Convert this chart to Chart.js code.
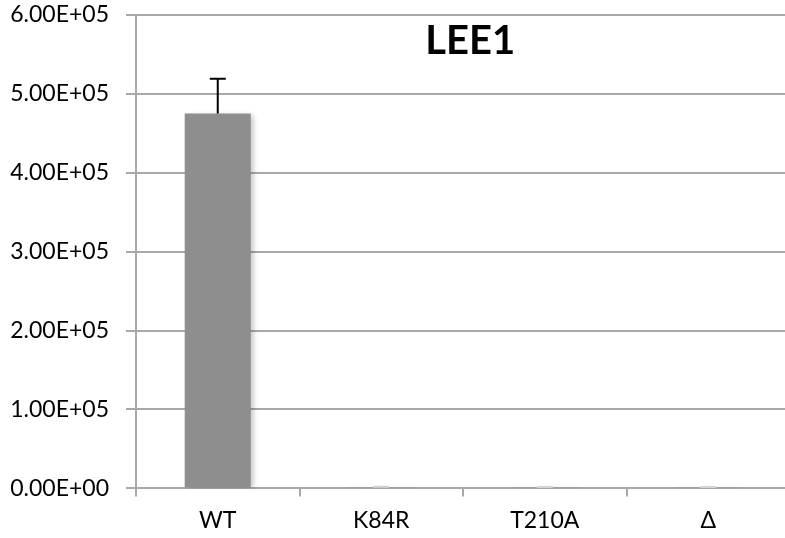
<!DOCTYPE html>
<html>
<head>
<meta charset="utf-8">
<title>LEE1</title>
<script src="https://cdn.jsdelivr.net/npm/chart.js@4"></script>
<style>
    html, body { margin: 0; padding: 0; background: #fff; overflow: hidden; }
    #wrap { position: relative; top: -16px; width: 792px; height: 554px; }
</style>
</head>
<body>
<div id="wrap"><canvas id="myBarChart"></canvas></div>
<script>
'use strict';

// chart data
const categories = ["WT", "K84R", "T210A", "\u0394"];
const values = [475000, 900, 700, 800];
const errors = [44000, 1100, 1200, 1100];
const errorColors = ['#000000', '#d4d4d4', '#d4d4d4', '#d4d4d4'];
const yMin = 0;
const yMax = 600000;
const yStep = 100000;
const chartTitle = "LEE1";

{
    const FONT = "Lato, 'DejaVu Sans', sans-serif";
    const GRID = '#a8a8a8';

    // 6.00E+05 style labels
    function sci(v) {
        const parts = Number(v).toExponential(2).split('e');
        const exp = parts[1];
        return parts[0] + 'E' + exp[0] + exp.slice(1).padStart(2, '0');
    }

    /**
     * soft shadow behind the bars
     */
    const barShadow = {
        id: 'barShadow',
        beforeDatasetDraw(chart) {
            const ctx = chart.ctx;
            ctx.save();
            ctx.shadowColor = 'rgba(0,0,0,0.22)';
            ctx.shadowBlur = 5;
            ctx.shadowOffsetX = 3;
            ctx.shadowOffsetY = 2;
        },
        afterDatasetDraw(chart) {
            chart.ctx.restore();
        }
    };

    /**
     * upper error bars
     */
    const errorBars = {
        id: 'errorBars',
        afterDatasetsDraw(chart) {
            const ctx = chart.ctx;
            const y = chart.scales.y;
            const meta = chart.getDatasetMeta(0);
            meta.data.forEach((bar, i) => {
                const top = y.getPixelForValue(values[i] + errors[i]);
                const base = y.getPixelForValue(values[i]);
                ctx.save();
                ctx.strokeStyle = errorColors[i];
                ctx.lineWidth = 2;
                ctx.beginPath();
                ctx.moveTo(bar.x, base);
                ctx.lineTo(bar.x, top);
                ctx.moveTo(bar.x - 8, top);
                ctx.lineTo(bar.x + 8, top);
                ctx.stroke();
                ctx.restore();
            });
        }
    };

    /**
     * title drawn inside the plot area
     */
    const innerTitle = {
        id: 'innerTitle',
        afterDraw(chart) {
            const ctx = chart.ctx;
            const a = chart.chartArea;
            ctx.save();
            ctx.font = "bold 40px " + FONT;
            ctx.fillStyle = '#000';
            ctx.textAlign = 'center';
            ctx.textBaseline = 'alphabetic';
            ctx.fillText(chartTitle, a.left + (a.right - a.left) * 0.511, a.top + 39);
            ctx.restore();
        }
    };

    let ctx = document.getElementById("myBarChart");
    let myChart = new Chart(ctx, {
        type: 'bar',
        data: {
            labels: categories,
            datasets: [
                {
                    data: values,
                    backgroundColor: '#8e8e8e',
                    borderWidth: 0,
                    categoryPercentage: 1,
                    barPercentage: 0.404
                }
            ]
        },
        plugins: [barShadow, errorBars, innerTitle],
        options: {
            responsive: true,
            maintainAspectRatio: false,
            animation: false,
            layout: {
                padding: { top: 0, right: 2, bottom: -6, left: 0 }
            },
            plugins: {
                legend: { display: false },
                tooltip: { enabled: false },
                title: { display: false }
            },
            scales: {
                x: {
                    grid: {
                        drawOnChartArea: false,
                        drawTicks: true,
                        tickLength: 8,
                        color: GRID,
                        lineWidth: 2
                    },
                    border: { color: GRID, width: 2 },
                    ticks: {
                        color: '#000',
                        padding: 10,
                        font: { family: FONT, size: 23 }
                    }
                },
                y: {
                    min: yMin,
                    max: yMax,
                    afterFit(scale) { scale.width = 136; },
                    grid: {
                        color: GRID,
                        lineWidth: 2,
                        tickLength: 10
                    },
                    border: { color: GRID, width: 2 },
                    ticks: {
                        stepSize: yStep,
                        color: '#000',
                        padding: 17,
                        font: { family: FONT, size: 23 },
                        callback: (v) => sci(v)
                    }
                }
            }
        }
    });
}
</script>
</body>
</html>
